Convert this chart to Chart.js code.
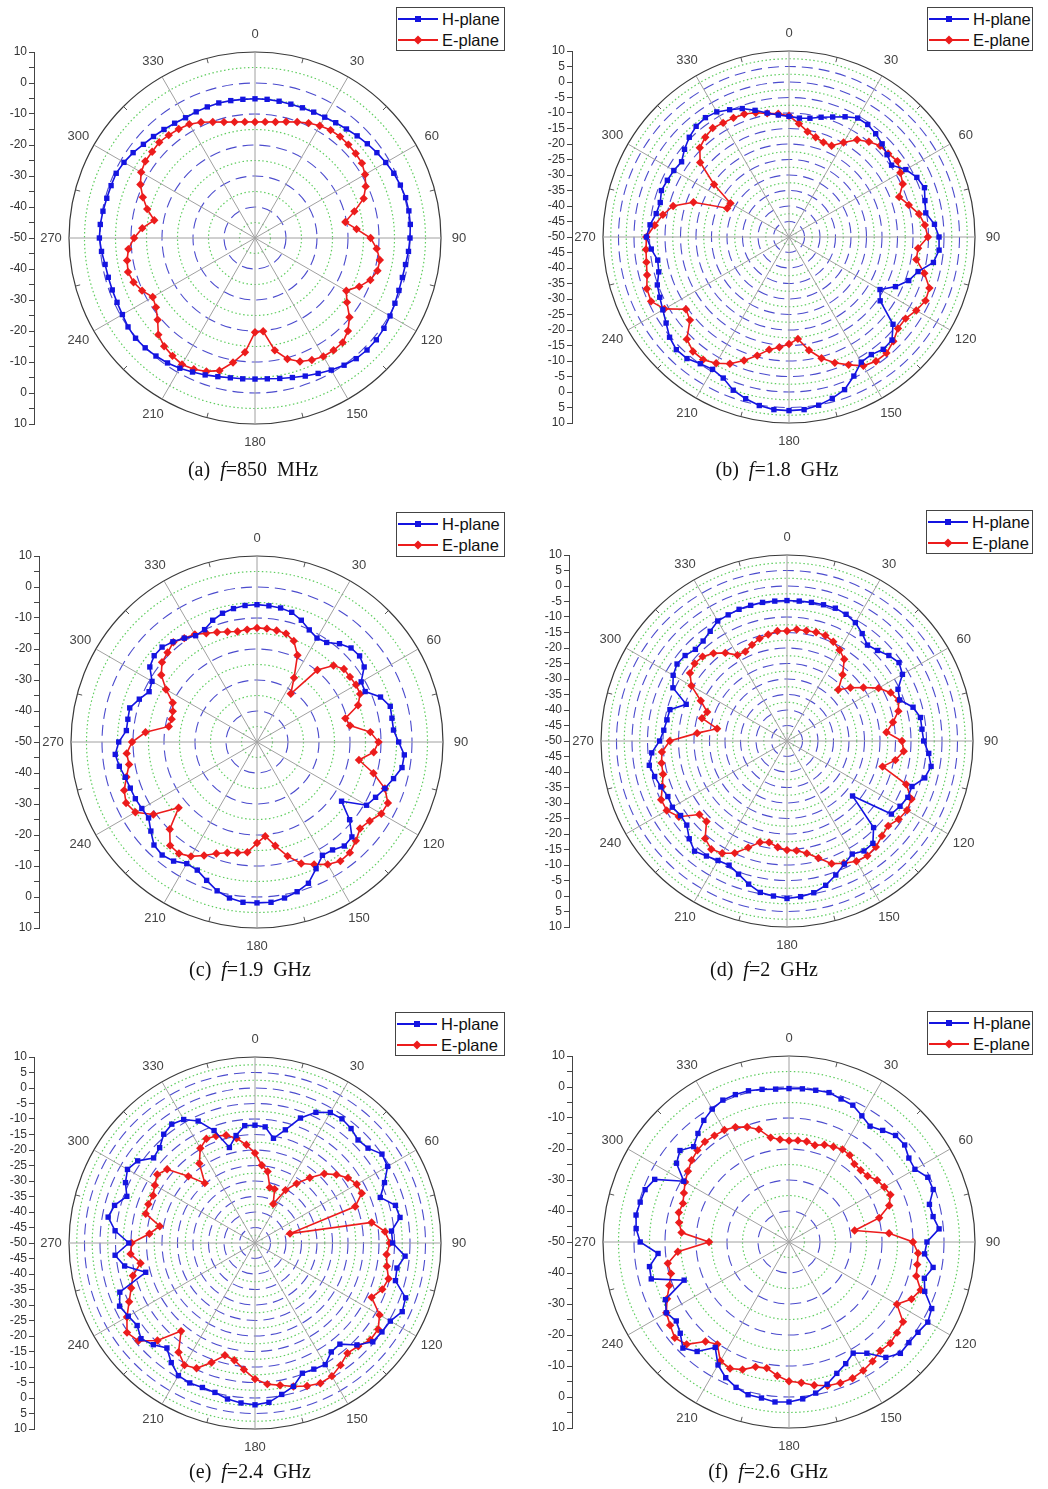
<!DOCTYPE html>
<html>
<head>
<meta charset="utf-8">
<title>Radiation patterns</title>
<script src="https://cdn.jsdelivr.net/npm/chart.js@4.4.1/dist/chart.umd.min.js"></script>
<style>
  body { margin: 0; background: #fff; }
  #page { position: relative; width: 1048px; height: 1489px; overflow: hidden; }
  #page canvas { position: absolute; }
  .legend { position: absolute; box-sizing: border-box; border: 1px solid #444; background: #fff;
            font: 16.5px "Liberation Sans", Arial, sans-serif; color: #111; }
  .legend .row { position: absolute; left: 1px; height: 20px; display: flex; align-items: center; white-space: nowrap; }
  .legend svg { margin-right: 4px; }
  .caption { position: absolute; font: 20px "Liberation Serif", "Times New Roman", serif; white-space: pre;
             transform: translate(-50%, -50%); color: #111; line-height: 24px; }
</style>
</head>
<body>
<div id="page"></div>
<script>
// angle categories (degrees, clockwise from top)
const angles = [0,5,10,15,20,25,30,35,40,45,50,55,60,65,70,75,80,85,90,95,100,105,110,115,120,125,130,135,140,145,150,155,160,165,170,175,180,185,190,195,200,205,210,215,220,225,230,235,240,245,250,255,260,265,270,275,280,285,290,295,300,305,310,315,320,325,330,335,340,345,350,355];

// (a) f = 850 MHz
const hPlaneA = [
  -5.1,-5.1,-5.2,-5.3,-5.3,-5.2,-5.0,-4.6,-4.1,
  -3.4,-2.7,-2.0,-1.3,-0.6,-0.1,0.3,0.4,0.3,
  0.0,-0.3,-0.7,-0.8,-0.6,-0.2,0.3,0.8,1.1,
  1.1,0.8,0.1,-0.8,-1.8,-2.6,-3.4,-4.0,-4.4,
  -4.5,-4.4,-4.2,-3.7,-3.0,-2.3,-1.5,-0.8,-0.3,
  0.1,0.3,0.0,-0.6,-0.9,-1.0,-1.0,-0.9,-0.3,
  0.2,0.1,-0.2,-0.5,-0.6,-0.6,-1.2,-2.0,-3.0,
  -3.7,-4.3,-4.8,-5.2,-5.1,-5.0,-4.9,-5.0,-5.1];
const ePlaneA = [
  -12.6,-12.4,-12.0,-11.2,-10.2,-9.1,-8.2,-7.5,-7.3,
  -7.4,-7.6,-7.9,-9.0,-10.6,-12.7,-16.8,-20.4,-17.1,
  -12.7,-10.6,-9.1,-9.1,-10.4,-12.9,-16.0,-13.8,-10.2,
  -7.6,-6.0,-5.8,-5.9,-6.6,-7.6,-9.6,-13.2,-19.8,
  -19.6,-13.0,-9.2,-5.7,-4.2,-3.3,-2.9,-3.6,-4.4,
  -5.9,-9.0,-11.0,-11.9,-9.8,-8.3,-7.6,-8.1,-9.0,
  -11.0,-13.5,-17.0,-14.0,-11.5,-9.2,-7.6,-6.8,-6.7,
  -6.3,-6.7,-7.1,-7.6,-8.8,-10.2,-11.3,-12.0,-12.4];

// (b) f = 1.8 GHz
const hPlaneB = [
  -11.1,-11.5,-11.1,-10.0,-8.8,-7.2,-5.7,-5.7,-6.5,
  -7.5,-8.7,-9.6,-6.5,-4.5,-3.5,-4.6,-5.2,-2.9,
  -1.6,-1.4,-2.7,-6.9,-8.9,-12.1,-16.1,-14.1,-6.2,
  -3.0,-2.7,-3.7,-3.4,-0.5,2.4,3.9,5.1,5.9,
  6.0,5.9,5.2,4.0,2.6,0.2,-0.7,-0.1,1.2,
  1.4,0.3,-1.6,-3.0,-4.0,-4.8,-6.5,-7.0,-5.4,
  -4.0,-5.0,-6.5,-7.0,-6.2,-6.7,-7.1,-7.7,-6.0,
  -4.5,-3.4,-3.0,-3.4,-4.7,-5.9,-7.7,-9.4,-10.5];
const ePlaneB = [
  -10.9,-13.3,-15.5,-16.7,-17.5,-17.5,-14.8,-11.7,-9.9,
  -8.4,-8.2,-7.3,-8.5,-9.5,-12.2,-10.0,-7.4,-6.0,
  -5.2,-8.2,-8.3,-4.8,-1.8,-1.4,-2.6,-4.1,-4.1,
  -2.4,-1.1,-1.1,-2.0,-4.5,-6.8,-9.5,-12.9,-17.0,
  -15.5,-14.3,-13.1,-10.4,-7.6,-4.9,-3.0,-1.7,-1.8,
  -3.4,-8.3,-9.4,-3.6,-0.9,-1.2,-2.6,-3.3,-3.7,
  -4.0,-6.5,-8.7,-11.3,-17.2,-28.0,-28.2,-20.5,-12.6,
  -9.3,-8.0,-7.1,-7.5,-7.6,-7.8,-8.5,-9.5,-10.1];

// (c) f = 1.9 GHz
const hPlaneC = [
  -5.7,-5.9,-6.1,-6.7,-8.2,-10.1,-11.3,-10.8,-8.6,
  -7.1,-6.8,-7.8,-11.2,-11.5,-7.6,-5.5,-5.8,-5.8,
  -4.3,-2.3,-2.5,-4.4,-6.1,-7.8,-9.2,-16.7,-11.0,
  -6.7,-6.2,-7.5,-7.8,-4.9,-1.5,0.0,1.1,1.9,
  1.9,1.9,1.1,-0.3,-2.5,-4.4,-4.7,-3.1,-2.4,
  -3.0,-5.3,-7.3,-7.1,-6.7,-6.5,-6.0,-4.9,-4.1,
  -5.4,-7.7,-7.7,-7.5,-9.6,-11.6,-10.9,-7.8,-6.7,
  -6.7,-7.8,-9.1,-10.4,-10.0,-8.2,-7.0,-6.3,-5.8];
const ePlaneC = [
  -13.2,-13.3,-13.5,-13.8,-15.3,-19.1,-26.1,-31.0,-19.7,
  -15.1,-13.4,-13.4,-13.1,-13.3,-15.3,-20.5,-19.5,-13.3,
  -10.8,-12.2,-16.6,-11.1,-6.1,-3.4,-3.7,-5.6,-6.6,
  -4.9,-3.4,-3.1,-4.4,-6.4,-8.3,-11.9,-16.0,-19.5,
  -17.4,-14.3,-13.7,-13.0,-11.7,-9.6,-7.4,-6.1,-6.4,
  -10.2,-17.0,-9.2,-4.7,-3.4,-4.4,-6.4,-8.1,-7.8,
  -9.7,-13.9,-21.1,-21.5,-21.1,-20.0,-16.1,-12.3,-10.0,
  -9.2,-8.0,-9.1,-9.9,-11.3,-12.3,-13.2,-13.8,-13.6];

// (d) f = 2 GHz
const hPlaneD = [
  -4.7,-4.7,-4.6,-4.5,-4.4,-4.9,-5.9,-7.7,-9.6,
  -8.7,-7.1,-5.9,-7.0,-10.5,-11.3,-7.9,-6.3,-6.3,
  -5.9,-4.1,-2.8,-4.0,-7.1,-7.0,-7.9,-8.9,-22.4,
  -10.5,-6.9,-6.7,-7.9,-6.2,-4.0,-1.8,-0.3,0.4,
  0.8,0.2,-0.4,-2.2,-4.3,-5.8,-5.5,-4.7,-3.6,
  -5.4,-7.8,-8.1,-7.3,-7.6,-6.7,-5.8,-4.9,-6.2,
  -8.9,-10.1,-10.7,-10.9,-15.4,-9.4,-7.6,-6.7,-7.1,
  -8.2,-7.9,-6.8,-5.3,-5.1,-4.8,-4.7,-4.6,-4.7];
const ePlaneD = [
  -14.5,-13.9,-13.9,-13.7,-13.8,-14.7,-16.1,-17.8,-22.1,
  -26.6,-23.3,-19.9,-15.9,-13.1,-11.7,-12.8,-15.3,-17.8,
  -12.9,-12.2,-14.5,-18.1,-9.1,-5.7,-5.3,-6.0,-7.4,
  -6.7,-5.4,-4.8,-5.2,-6.5,-7.9,-10.9,-13.2,-14.5,
  -14.8,-15.6,-16.8,-16.2,-13.4,-10.1,-8.2,-7.4,-8.9,
  -13.3,-13.1,-7.4,-5.2,-5.2,-7.2,-8.6,-8.9,-9.5,
  -12.2,-20.9,-27.1,-21.6,-22.6,-19.3,-14.4,-11.8,-11.1,
  -11.5,-13.1,-15.3,-18.0,-18.2,-17.0,-15.8,-15.1,-14.4];

// (e) f = 2.4 GHz
const hPlaneE = [
  -12.0,-12.4,-15.7,-12.2,-7.1,-3.5,-1.4,-1.1,-1.8,
  -3.0,-2.4,0.0,-0.6,-3.9,-7.0,-3.1,-2.5,-5.8,
  -5.6,-1.4,-3.5,-3.1,1.7,2.4,0.4,0.0,-0.4,
  -3.5,-7.4,-7.1,-4.7,-5.1,-5.3,-2.1,-0.4,1.6,
  2.2,1.8,1.1,-0.1,-0.4,-0.2,-0.6,-2.9,-5.8,
  -3.6,-2.0,-3.6,-2.8,-1.8,-3.6,-13.5,-7.3,-4.7,
  -9.3,-4.7,-1.9,-3.1,-6.0,-3.9,-2.5,-3.8,-7.3,
  -6.5,-4.2,-3.2,-4.0,-6.6,-11.4,-18.1,-14.8,-12.0];
const ePlaneE = [
  -21.0,-24.8,-26.6,-31.5,-31.5,-36.1,-30.3,-26.6,-22.5,
  -18.4,-15.7,-13.4,-12.1,-12.0,-15.6,-38.3,-11.8,-7.9,
  -6.5,-7.4,-6.8,-5.4,-6.3,-8.5,-3.6,-1.5,-1.4,
  -2.9,-3.6,-1.9,-0.4,-0.1,-0.9,-2.1,-3.4,-4.3,
  -6.1,-9.0,-11.6,-12.5,-9.0,-5.4,-4.5,-7.0,-12.9,
  -5.5,-0.9,0.4,-2.3,-5.2,-7.5,-9.2,-12.5,-9.7,
  -10.2,-15.8,-18.8,-13.5,-13.4,-13.7,-12.7,-11.5,-13.0,
  -19.6,-24.8,-18.7,-14.7,-12.9,-13.3,-14.0,-15.7,-18.2];

// (f) f = 2.6 GHz
const hPlaneF = [
  -0.5,-0.4,-0.3,-0.1,-0.9,-1.3,-3.0,-4.4,-3.0,
  -1.4,-1.3,-2.8,-3.1,-0.6,-0.5,-3.1,-2.8,-1.4,
  -5.5,-6.1,-2.8,-4.8,-3.4,0.8,1.7,0.8,0.5,
  0.8,-1.4,-6.2,-8.6,-6.7,-4.9,-2.5,-0.5,0.8,
  1.6,1.8,1.1,1.0,-0.1,-1.7,-4.2,-8.5,-3.9,
  -1.6,-4.2,-5.6,-4.3,-6.0,-14.0,-4.0,-4.3,-7.6,
  -2.0,-0.5,0.1,-0.3,-0.6,-2.2,-10.8,-5.7,-4.1,
  -6.5,-4.3,-2.1,-0.5,0.5,0.6,0.5,0.0,-0.5];
const ePlaneF = [
  -17.3,-17.1,-17.1,-17.7,-16.6,-16.1,-15.5,-15.8,-17.2,
  -17.3,-16.9,-15.3,-14.5,-13.9,-15.6,-19.9,-28.5,-17.6,
  -10.0,-8.2,-8.0,-7.5,-4.8,-6.4,-9.8,-5.1,-4.5,
  -3.8,-4.2,-3.0,-2.1,-1.5,-1.6,-2.0,-3.1,-4.4,
  -5.1,-6.7,-8.7,-8.3,-6.2,-5.0,-5.7,-9.7,-8.1,
  -3.3,-1.9,-3.2,-4.3,-6.6,-8.9,-10.6,-10.3,-14.0,
  -24.2,-15.2,-14.0,-13.2,-13.6,-12.6,-11.3,-10.2,-9.0,
  -8.2,-7.8,-8.1,-8.3,-9.1,-10.5,-12.4,-15.8,-16.8];

// radial axis: -50 dB at centre, 10 dB at rim; left-axis label step per panel
const radialMin = -50;
const radialMax = 10;
const labelSteps = [10, 5, 10, 5, 5, 10];
const seriesNames = ['H-plane', 'E-plane'];
const captionTags = ['(a)', '(b)', '(c)', '(d)', '(e)', '(f)'];
const captionFreqs = ['850', '1.8', '1.9', '2', '2.4', '2.6'];
const captionUnits = ['MHz', 'GHz', 'GHz', 'GHz', 'GHz', 'GHz'];
const hSeries = [hPlaneA, hPlaneB, hPlaneC, hPlaneD, hPlaneE, hPlaneF];
const eSeries = [ePlaneA, ePlaneB, ePlaneC, ePlaneD, ePlaneE, ePlaneF];

// page geometry of each panel (canvas box, polar centre, left axis line, legend, caption)
const R = 186;
const frames = [
  { left: 0,   top: 0,    width: 524, height: 500, cx: 255, cy: 238,  axisX: 34,  legend: [396, 7, 109, 44],   caption: [253, 469] },
  { left: 520, top: 0,    width: 528, height: 500, cx: 789, cy: 237,  axisX: 572, legend: [927, 7, 106, 44],   caption: [777, 469] },
  { left: 0,   top: 500,  width: 524, height: 500, cx: 257, cy: 742,  axisX: 39,  legend: [396, 512, 109, 45], caption: [250, 969] },
  { left: 520, top: 500,  width: 528, height: 500, cx: 787, cy: 741,  axisX: 569, legend: [926, 510, 107, 44], caption: [764, 969] },
  { left: 0,   top: 1000, width: 524, height: 489, cx: 255, cy: 1243, axisX: 34,  legend: [395, 1012, 110, 44], caption: [250, 1471] },
  { left: 520, top: 1000, width: 528, height: 489, cx: 789, cy: 1242, axisX: 572, legend: [927, 1011, 106, 44], caption: [768, 1471] }
];

const BLUE = '#1414e0';
const RED = '#ec1c1c';
const FONT = '"Liberation Sans", Arial, sans-serif';

// angle labels every 30 deg and small rim ticks at the 15 deg midpoints
const polarDecor = {
  id: 'polarDecor',
  afterDraw(chart) {
    const r = chart.scales.r;
    const ctx = chart.ctx;
    ctx.save();
    ctx.strokeStyle = '#555';
    ctx.lineWidth = 1;
    chart.data.labels.forEach((deg, i) => {
      if (deg % 30 !== 15) return;
      const a = r.getPointPosition(i, r.drawingArea);
      const b = r.getPointPosition(i, r.drawingArea - 5);
      ctx.beginPath();
      ctx.moveTo(a.x, a.y);
      ctx.lineTo(b.x, b.y);
      ctx.stroke();
    });
    ctx.fillStyle = '#444';
    ctx.font = '13px ' + FONT;
    ctx.textAlign = 'center';
    ctx.textBaseline = 'middle';
    chart.data.labels.forEach((deg, i) => {
      if (deg % 30 !== 0) return;
      const p = r.getPointPosition(i, r.drawingArea + 18);
      ctx.fillText(String(deg), p.x, p.y);
    });
    ctx.restore();
  }
};

function legendIcon(color, shape) {
  const marker = shape === 'rect'
    ? `<rect x="17" y="7" width="6" height="6" fill="${color}"/>`
    : `<polygon points="20,5.5 24.5,10 20,14.5 15.5,10" fill="${color}"/>`;
  return `<svg width="40" height="20"><line x1="0" y1="10" x2="40" y2="10" stroke="${color}" stroke-width="2"/>${marker}</svg>`;
}

const page = document.getElementById('page');

frames.forEach((g, k) => {
  const step = labelSteps[k];
  const minor = step / 2;
  const pt = g.cy - R - g.top;
  const yw = g.axisX - g.left;
  const w = 2 * (g.cx - g.axisX);
  const pr = g.width - yw - w;
  const pb = g.height - pt - 2 * R;

  const canvas = document.createElement('canvas');
  canvas.width = g.width;
  canvas.height = g.height;
  canvas.style.left = g.left + 'px';
  canvas.style.top = g.top + 'px';
  page.appendChild(canvas);

  const isMajor = v => Math.abs(v % step) < 1e-6;
  const gridColor = c => {
    const v = c.tick.value;
    if (v >= radialMax) return '#3a3a3a';
    return isMajor(v) ? 'rgba(55,55,200,0.9)' : 'rgba(95,205,95,1)';
  };
  const gridWidth = c => {
    const v = c.tick.value;
    if (v >= radialMax) return 1.2;
    return isMajor(v) ? 1.1 : 1.2;
  };
  const gridDash = c => {
    const v = c.tick.value;
    if (v >= radialMax) return [];
    return isMajor(v) ? [11, 6] : [1.5, 2.5];
  };

  new Chart(canvas, {
    type: 'radar',
    data: {
      labels: angles,
      datasets: [
        { label: seriesNames[0], data: hSeries[k], borderColor: BLUE, backgroundColor: BLUE,
          pointStyle: 'rect', pointRadius: 3.8, pointBorderWidth: 0, borderWidth: 1.6, fill: false },
        { label: seriesNames[1], data: eSeries[k], borderColor: RED, backgroundColor: RED,
          pointStyle: 'rectRot', pointRadius: 4.2, pointBorderWidth: 0, borderWidth: 1.6, fill: false }
      ]
    },
    options: {
      responsive: false,
      animation: false,
      events: [],
      layout: { padding: { left: 0, top: pt, right: pr, bottom: pb } },
      plugins: { legend: { display: false }, tooltip: { enabled: false } },
      scales: {
        r: {
          min: radialMin,
          max: radialMax,
          ticks: { display: false, stepSize: minor },
          pointLabels: { display: false },
          grid: { circular: true, color: gridColor, lineWidth: gridWidth, borderDash: gridDash },
          border: { dash: gridDash },
          angleLines: { display: true, color: '#a0a0a0', lineWidth: c => (c.index % 6 === 0 ? 1 : 0) }
        },
        y: {
          type: 'linear',
          position: 'left',
          min: -60,
          max: 60,
          afterFit: s => { s.width = yw; },
          ticks: {
            stepSize: 5,
            autoSkip: false,
            padding: 2,
            color: '#333',
            font: { family: FONT, size: 12 },
            callback: v => (Math.abs(v) % step === 0 ? String(radialMin + Math.abs(v)) : '')
          },
          grid: { drawOnChartArea: false, drawTicks: true, tickLength: 5, color: '#444' },
          border: { display: true, color: '#444', width: 1 }
        }
      }
    },
    plugins: [polarDecor]
  });

  // legend box
  const lg = document.createElement('div');
  lg.className = 'legend';
  const [lx, ly, lw, lh] = g.legend;
  lg.style.left = lx + 'px';
  lg.style.top = ly + 'px';
  lg.style.width = lw + 'px';
  lg.style.height = lh + 'px';
  lg.innerHTML =
    `<div class="row" style="top:1px">${legendIcon(BLUE, 'rect')}<span>${seriesNames[0]}</span></div>` +
    `<div class="row" style="top:22px">${legendIcon(RED, 'diamond')}<span>${seriesNames[1]}</span></div>`;
  page.appendChild(lg);

  // caption
  const cap = document.createElement('div');
  cap.className = 'caption';
  cap.style.left = g.caption[0] + 'px';
  cap.style.top = g.caption[1] + 'px';
  cap.innerHTML = `${captionTags[k]}  <i>f</i>=${captionFreqs[k]}  ${captionUnits[k]}`;
  page.appendChild(cap);
});
</script>
</body>
</html>
